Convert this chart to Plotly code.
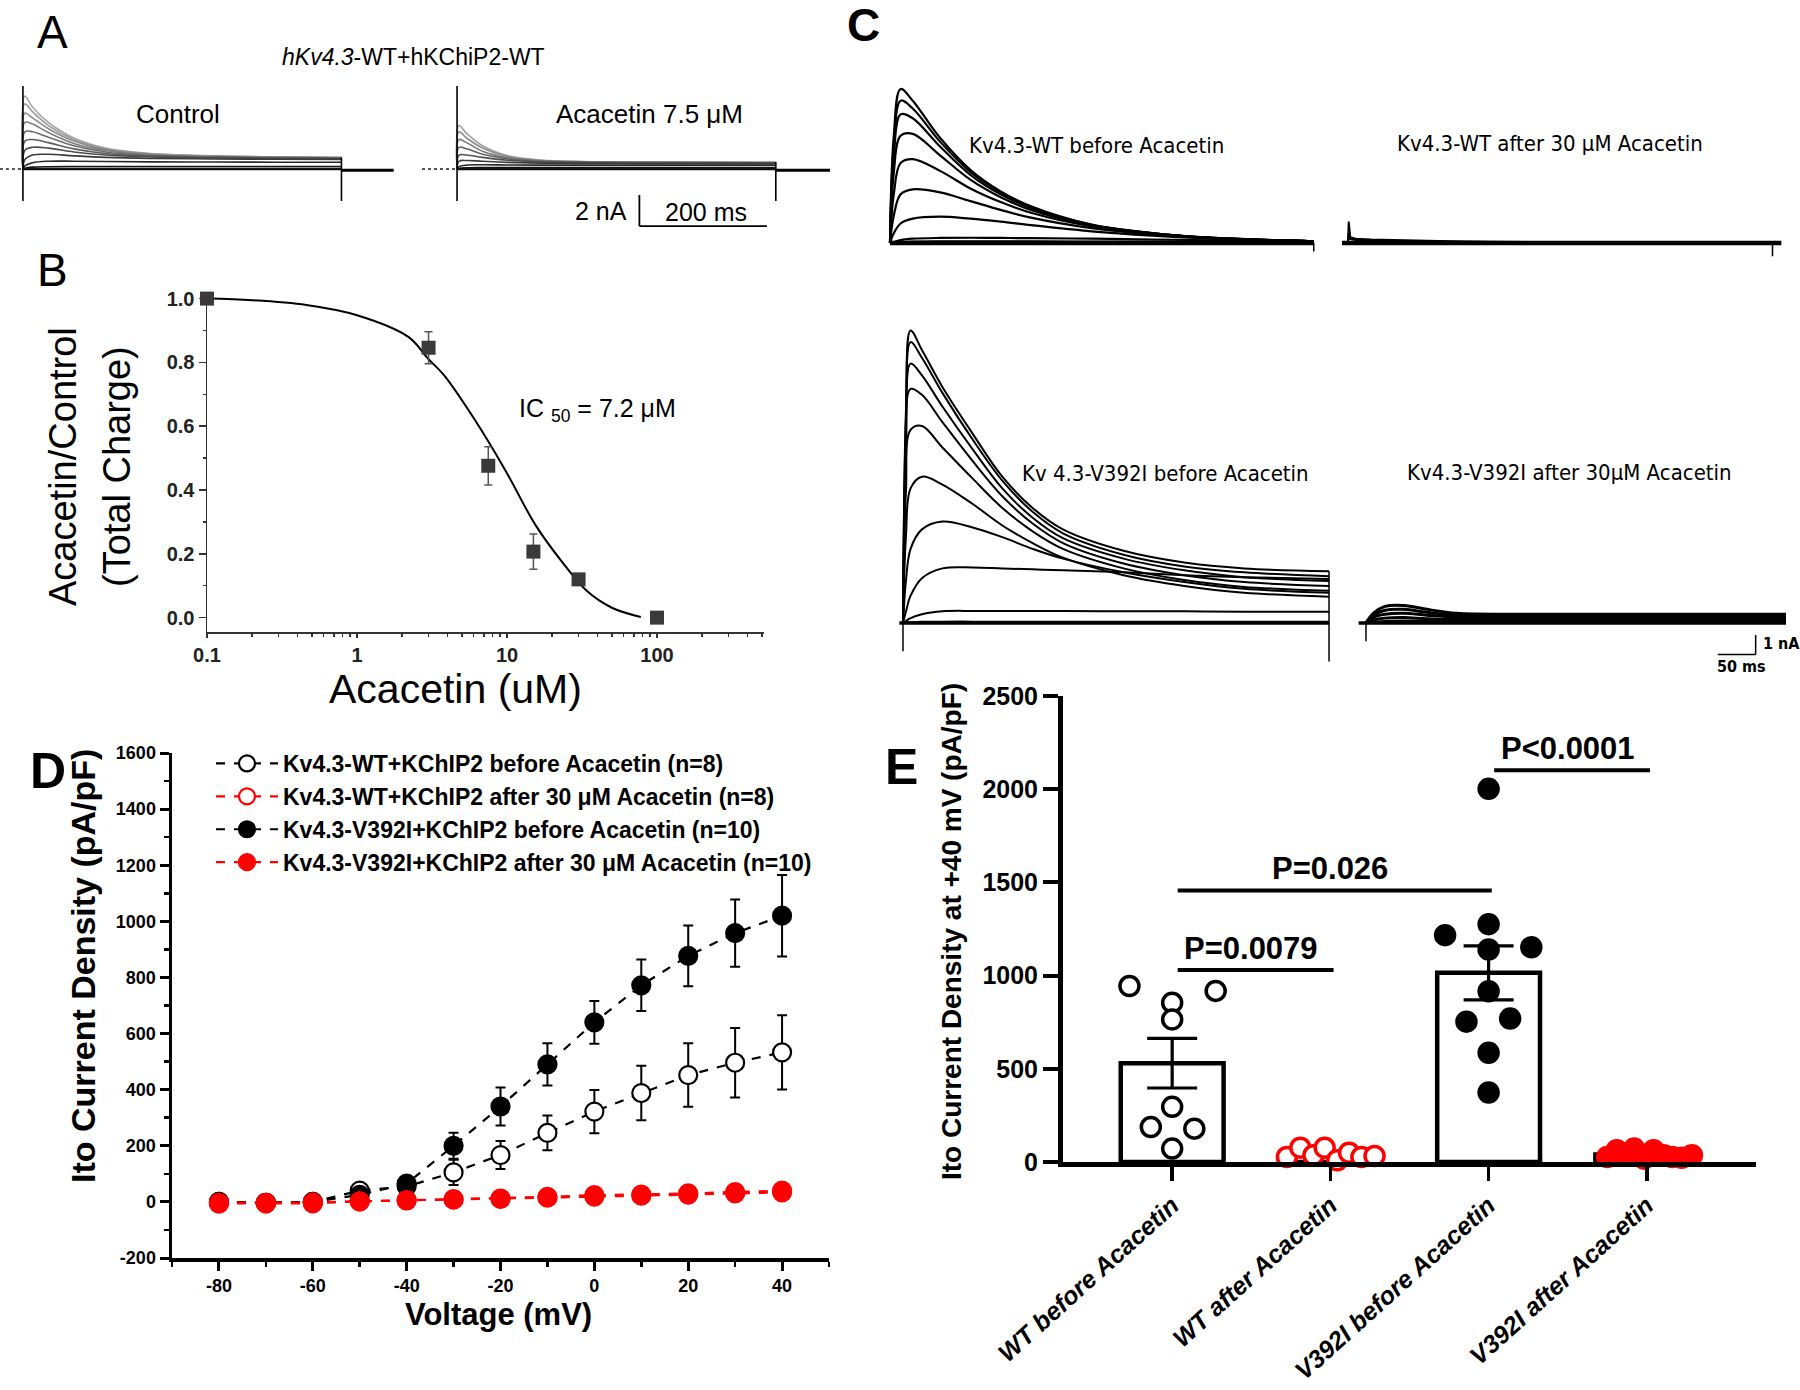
import plotly.graph_objects as go

W, H = 1800, 1390
SANS = "Liberation Sans, Arial, sans-serif"
NARROW = "Liberation Sans Narrow, Arial Narrow, DejaVu Sans Condensed, sans-serif"

# ---------------- Panel A : hKv4.3-WT + hKChiP2-WT current traces (nA vs ms) ----------------
A_time = [0, 3, 15, 40, 80, 130, 200, 300, 400, 500]
A_control = [
    [0, 4.70, 4.00, 3.00, 2.00, 1.35, 1.00, 0.85, 0.78, 0.75],
    [0, 4.20, 3.70, 2.80, 1.90, 1.30, 0.98, 0.83, 0.77, 0.74],
    [0, 3.60, 3.30, 2.60, 1.80, 1.25, 0.95, 0.82, 0.76, 0.73],
    [0, 3.00, 2.90, 2.35, 1.65, 1.20, 0.92, 0.80, 0.75, 0.72],
    [0, 2.40, 2.40, 2.05, 1.50, 1.10, 0.88, 0.78, 0.73, 0.71],
    [0, 1.80, 1.90, 1.70, 1.30, 1.00, 0.83, 0.75, 0.71, 0.69],
    [0, 1.20, 1.40, 1.35, 1.10, 0.90, 0.78, 0.72, 0.69, 0.67],
    [0, 0.60, 0.90, 0.95, 0.85, 0.75, 0.68, 0.65, 0.63, 0.62],
    [0, 0.20, 0.40, 0.50, 0.50, 0.48, 0.46, 0.45, 0.44, 0.44],
    [0, 0.05, 0.12, 0.15, 0.16, 0.16, 0.16, 0.16, 0.16, 0.16],
]
A_acacetin = [
    [0, 2.80, 2.30, 1.50, 0.85, 0.58, 0.48, 0.45, 0.44, 0.43],
    [0, 2.40, 2.00, 1.35, 0.80, 0.56, 0.47, 0.44, 0.43, 0.42],
    [0, 1.90, 1.70, 1.15, 0.72, 0.53, 0.46, 0.43, 0.42, 0.41],
    [0, 1.40, 1.30, 0.95, 0.65, 0.50, 0.44, 0.42, 0.41, 0.40],
    [0, 0.90, 0.90, 0.75, 0.56, 0.46, 0.42, 0.40, 0.39, 0.39],
    [0, 0.50, 0.55, 0.50, 0.43, 0.38, 0.36, 0.35, 0.35, 0.35],
    [0, 0.15, 0.25, 0.27, 0.26, 0.25, 0.25, 0.25, 0.25, 0.25],
    [0, 0.03, 0.07, 0.09, 0.10, 0.10, 0.10, 0.10, 0.10, 0.10],
]
A_pre_time = [-55, -2]
A_pre = [0, 0]
A_on_time = [0, 0]
A_on_artifact = [-2.06, 5.35]
A_off_time = [500, 500]
A_off_control = [0.75, -2.06]
A_off_acacetin = [0.45, -2.06]
A_tail_time = [500, 585]
A_tail = [-0.08, -0.08]
A_scale_ms = 200
A_scale_nA = 2

# ---------------- Panel B : concentration-response ----------------
B_conc = [0.1, 3, 7.5, 15, 30, 100]
B_ratio = [1.0, 0.846, 0.476, 0.207, 0.12, 0.0]
B_err = [0, 0.05, 0.06, 0.055, 0.012, 0]
B_fit_conc = [0.1, 0.2, 0.46, 1.0, 2.2, 3.0, 3.8, 6.1, 9.8, 15.5, 23, 34, 50, 78]
B_fit_ratio = [1.0, 0.995, 0.98, 0.948, 0.88, 0.81, 0.76, 0.62, 0.46, 0.29, 0.178, 0.084, 0.031, 0.002]
B_xticks = [0.1, 1, 10, 100]
B_xticklabels = ["0.1", "1", "10", "100"]
B_yticks = [0.0, 0.2, 0.4, 0.6, 0.8, 1.0]

# ---------------- Panel C : current traces (nA vs ms) ----------------
C_wt_before_time = [0, 5, 14, 30, 66, 106, 146, 186, 266, 346, 427, 559]
C_wt_before = [
    [0, 5.5, 7.9, 7.3, 5.4, 3.76, 2.65, 1.88, 0.94, 0.51, 0.26, 0.09],
    [0, 5.0, 7.3, 6.9, 5.2, 3.65, 2.60, 1.85, 0.93, 0.50, 0.26, 0.09],
    [0, 4.4, 6.6, 6.4, 4.95, 3.50, 2.50, 1.80, 0.92, 0.50, 0.26, 0.09],
    [0, 3.6, 5.5, 5.6, 4.5, 3.25, 2.35, 1.70, 0.90, 0.49, 0.25, 0.09],
    [0, 2.5, 4.1, 4.3, 3.7, 2.80, 2.10, 1.55, 0.85, 0.47, 0.25, 0.09],
    [0, 1.4, 2.5, 2.75, 2.6, 2.15, 1.70, 1.30, 0.76, 0.44, 0.24, 0.09],
    [0, 0.5, 1.0, 1.25, 1.35, 1.25, 1.10, 0.92, 0.60, 0.38, 0.22, 0.08],
    [0, 0.05, 0.15, 0.22, 0.26, 0.27, 0.26, 0.25, 0.22, 0.18, 0.14, 0.06],
    [0, 0.02, 0.05, 0.07, 0.08, 0.08, 0.08, 0.08, 0.07, 0.07, 0.06, 0.04],
]
C_wt_before_end = [0, -0.43]
C_wt_after_time = [0, 1, 3, 10, 30, 80, 150, 250, 400, 560]
C_wt_after = [
    [0, 1.1, 0.30, 0.22, 0.18, 0.13, 0.08, 0.05, 0.04, 0.03],
    [0, 0.5, 0.20, 0.15, 0.12, 0.09, 0.06, 0.04, 0.03, 0.02],
]
C_wt_after_end = [0, -0.68]
C_v_before_time = [0, 4, 10, 25, 52, 92, 131, 171, 211, 291, 371, 450, 562]
C_v_before = [
    [0, 11.0, 15.0, 14.0, 12.1, 9.7, 7.5, 5.9, 4.8, 3.7, 3.1, 2.8, 2.65],
    [0, 10.5, 14.4, 13.6, 11.8, 9.4, 7.3, 5.7, 4.6, 3.5, 2.9, 2.6, 2.4],
    [0, 9.5, 13.3, 12.7, 11.1, 8.9, 6.9, 5.4, 4.35, 3.3, 2.7, 2.35, 2.15],
    [0, 8.5, 12.0, 11.7, 10.3, 8.3, 6.5, 5.1, 4.1, 3.05, 2.45, 2.1, 1.9],
    [0, 6.8, 9.9, 10.1, 9.0, 7.4, 5.9, 4.7, 3.8, 2.8, 2.2, 1.85, 1.65],
    [0, 4.5, 6.9, 7.5, 7.1, 6.1, 5.0, 4.1, 3.35, 2.45, 1.9, 1.55, 1.35],
    [0, 2.2, 3.8, 4.8, 5.2, 4.9, 4.4, 3.8, 3.3, 2.6, 2.1, 1.75, 1.55],
    [0, 0.6, 1.4, 2.3, 2.8, 2.85, 2.8, 2.75, 2.7, 2.6, 2.45, 2.35, 2.25],
    [0, 0.1, 0.25, 0.45, 0.6, 0.62, 0.62, 0.62, 0.62, 0.6, 0.6, 0.58, 0.58],
    [0, 0.02, 0.04, 0.06, 0.07, 0.07, 0.07, 0.07, 0.07, 0.07, 0.07, 0.07, 0.07],
]
C_v_before_start = [0, -1.45]
C_v_before_end = [2.65, -1.97]
C_v_after_time = [0, 10, 25, 50, 80, 120, 200, 300, 400, 554]
C_v_after = [
    [0, 0.50, 0.85, 0.90, 0.70, 0.50, 0.45, 0.45, 0.45, 0.45],
    [0, 0.40, 0.65, 0.70, 0.55, 0.40, 0.36, 0.36, 0.36, 0.36],
    [0, 0.30, 0.45, 0.50, 0.40, 0.30, 0.28, 0.28, 0.28, 0.28],
    [0, 0.15, 0.25, 0.28, 0.22, 0.18, 0.17, 0.17, 0.17, 0.17],
    [0, 0.05, 0.08, 0.10, 0.08, 0.07, 0.07, 0.07, 0.07, 0.07],
]
C_v_after_start = [0, -0.94]
C_scale_ms = 50
C_scale_nA = 1

# ---------------- Panel D : I-V relationship ----------------
D_voltage = [-80, -70, -60, -50, -40, -30, -20, -10, 0, 10, 20, 30, 40]
D_wt_before = [0, -3, 0, 40, 55, 105, 167, 246, 322, 388, 452, 496, 533]
D_wt_before_err = [5, 5, 8, 15, 20, 45, 50, 62, 77, 97, 113, 124, 132]
D_wt_after = [-3, -3, -2, 2, 5, 8, 11, 15, 19, 22, 26, 30, 34]
D_wt_after_err = [3, 3, 3, 3, 4, 5, 5, 6, 6, 7, 7, 8, 8]
D_v_before = [0, -3, 0, 25, 65, 200, 340, 490, 640, 772, 877, 958, 1020]
D_v_before_err = [5, 5, 8, 10, 15, 46, 68, 75, 76, 92, 108, 120, 145]
D_v_after = [-6, -6, -5, 2, 6, 10, 12, 18, 24, 26, 30, 35, 40]
D_v_after_err = [3, 3, 3, 4, 4, 5, 5, 6, 6, 7, 7, 8, 9]
D_xticks = [-80, -60, -40, -20, 0, 20, 40]
D_xticklabels = ["-80", "-60", "-40", "-20", "0", "20", "40"]
D_yticks = [-200, 0, 200, 400, 600, 800, 1000, 1200, 1400, 1600]
D_yticklabels = ["-200", "0", "200", "400", "600", "800", "1000", "1200", "1400", "1600"]

# ---------------- Panel E : current density at +40 mV ----------------
E_groups = ["WT before Acacetin", "WT after Acacetin", "V392I before Acacetin", "V392I after Acacetin"]
E_mean = [530, 38, 1015, 40]
E_sem = [133, 9, 145, 8]
E_wt_before = [944, 918, 855, 765, 296, 188, 179, 72]
E_wt_before_offset = [-0.27, 0.275, 0, 0, 0, -0.135, 0.14, 0]
E_wt_after = [27, 77, 36, 77, 9, 50, 27, 32]
E_wt_after_offset = [-0.275, -0.19, -0.107, -0.036, 0.043, 0.118, 0.196, 0.279]
E_v_before = [2002, 1217, 1276, 1140, 1152, 916, 753, 770, 586, 373]
E_v_before_offset = [0, -0.275, 0, 0, 0.27, 0, -0.14, 0.136, 0, 0]
E_v_after = [27, 63, 36, 72, 18, 63, 36, 27, 23, 36]
E_v_after_offset = [-0.25, -0.19, -0.125, -0.08, -0.018, 0.043, 0.107, 0.16, 0.22, 0.285]
E_sig_from = [0, 0, 2]
E_sig_to = [1, 2, 3]
E_sig_y = [1030, 1457, 2102]
E_sig_text = ["P=0.0079", "P=0.026", "P<0.0001"]
E_yticks = [0, 500, 1000, 1500, 2000, 2500]


def xd(p0, p1):
    return [p0 / W, p1 / W]


def yd(top, bottom):
    return [1 - bottom / H, 1 - top / H]


def ann(text, x, y, size, family=SANS, xanchor="center", yanchor="middle", angle=0,
        color="black", weight=None):
    f = dict(family=family, size=size, color=color)
    if weight:
        f["weight"] = weight
    return dict(text=text, x=x / W, y=1 - y / H, xref="paper", yref="paper", showarrow=False,
                xanchor=xanchor, yanchor=yanchor, textangle=angle, font=f)


fig = go.Figure()


def line(x, y, ax, color="black", width=2, dash=None, shape="linear"):
    fig.add_trace(go.Scatter(x=x, y=y, mode="lines", xaxis="x" + ax, yaxis="y" + ax,
                             line=dict(color=color, width=width, dash=dash, shape=shape),
                             showlegend=False, hoverinfo="skip"))


# ----- Panel A traces -----
a_ctrl_cols = ["#a8a8a8", "#9a9a9a", "#8c8c8c", "#7e7e7e", "#6e6e6e",
               "#5e5e5e", "#4c4c4c", "#3a3a3a", "#282828", "#151515"]
a_acac_cols = ["#a0a0a0", "#8c8c8c", "#787878", "#646464", "#505050", "#3c3c3c", "#282828", "#151515"]
for ax, traces, cols, off in [("", A_control, a_ctrl_cols, A_off_control),
                              ("2", A_acacetin, a_acac_cols, A_off_acacetin)]:
    line(A_pre_time, A_pre, ax, color="#555", width=2, dash="dot")
    for tr, c in zip(traces, cols):
        line(A_time, tr, ax, color=c, width=1.6, shape="spline")
    line(A_on_time, A_on_artifact, ax, width=1.6)
    line(A_off_time, off, ax, width=1.6)
    line(A_tail_time, A_tail, ax, width=3)
    line([A_time[0], A_time[-1]], [0, 0], ax, color="#111", width=2.5)

# ----- Panel B -----
fig.add_trace(go.Scatter(x=B_fit_conc, y=B_fit_ratio, mode="lines", xaxis="x3", yaxis="y3",
                         line=dict(color="black", width=2, shape="spline"), showlegend=False))
fig.add_trace(go.Scatter(x=B_conc, y=B_ratio, mode="markers", xaxis="x3", yaxis="y3",
                         marker=dict(symbol="square", size=14, color="#3a3a3a"),
                         error_y=dict(type="data", array=B_err, color="#555", thickness=1.5, width=4),
                         cliponaxis=False, showlegend=False))

# ----- Panel C traces -----
for tr in C_wt_before:
    line(C_wt_before_time, tr, "4", width=2.2, shape="spline")
line([C_wt_before_time[0], C_wt_before_time[-1]], [0, 0], "4", width=4.5)
line([C_wt_before_time[-1]] * 2, C_wt_before_end, "4", width=1.5)

for tr in C_wt_after:
    line(C_wt_after_time, tr, "5", width=2, shape="linear")
line([-8, 572], [0, 0], "5", width=4.5)
line([C_wt_after_time[-1]] * 2, C_wt_after_end, "5", width=1.5)

for tr in C_v_before:
    line(C_v_before_time, tr, "6", width=2, shape="spline")
line([-5, C_v_before_time[-1]], [0, 0], "6", width=3.5)
line([0, 0], C_v_before_start, "6", width=1.5)
line([C_v_before_time[-1]] * 2, C_v_before_end, "6", width=1.5)

for tr in C_v_after:
    line(C_v_after_time, tr, "7", width=3, shape="spline")
line([-10, C_v_after_time[-1]], [0, 0], "7", width=3.5)
line([0, 0], C_v_after_start, "7", width=1.5)

# ----- Panel D -----
D_series = [
    ("<b>Kv4.3-WT+KChIP2 before Acacetin (n=8)</b>", D_wt_before, D_wt_before_err, "black", "white", 1),
    ("<b>Kv4.3-WT+KChIP2 after 30 μM Acacetin (n=8)</b>", D_wt_after, D_wt_after_err, "red", "white", 2),
    ("<b>Kv4.3-V392I+KChIP2 before Acacetin (n=10)</b>", D_v_before, D_v_before_err, "black", "black", 3),
    ("<b>Kv4.3-V392I+KChIP2 after 30 μM Acacetin (n=10)</b>", D_v_after, D_v_after_err, "red", "red", 4),
]
for name, vals, errs, col, fill, order in [D_series[0], D_series[2], D_series[1], D_series[3]]:
    fig.add_trace(go.Scatter(
        x=D_voltage, y=vals, name=name, mode="lines+markers", xaxis="x8", yaxis="y8",
        line=dict(color=col, width=2.2, dash="dash"),
        marker=dict(symbol="circle", size=18, color=fill, line=dict(color=col, width=2.2)),
        error_y=dict(type="data", array=errs, color=col, thickness=2, width=5),
        legendrank=order, cliponaxis=False))

# ----- Panel E -----
fig.add_trace(go.Bar(x=list(range(len(E_groups))), y=E_mean, width=0.65, xaxis="x9", yaxis="y9",
                     marker=dict(color="white", line=dict(color="black", width=4.5)),
                     error_y=dict(type="data", array=E_sem, color="black", thickness=3.2, width=25),
                     showlegend=False))
for gi, vals, offs, col, fill in [(0, E_wt_before, E_wt_before_offset, "black", "white"),
                                  (1, E_wt_after, E_wt_after_offset, "red", "white"),
                                  (2, E_v_before, E_v_before_offset, "black", "black"),
                                  (3, E_v_after, E_v_after_offset, "red", "red")]:
    fig.add_trace(go.Scatter(x=[gi + o for o in offs], y=vals, mode="markers", xaxis="x9", yaxis="y9",
                             marker=dict(symbol="circle", size=19, color=fill, line=dict(color=col, width=3.5)),
                             cliponaxis=False, showlegend=False))

shapes = []
for a, b, yv in zip(E_sig_from, E_sig_to, E_sig_y):
    shapes.append(dict(type="line", xref="x9", yref="y9", x0=a + 0.035, x1=b + 0.02, y0=yv, y1=yv,
                       line=dict(color="black", width=4)))
# scale bars
A_bar_x, A_bar_y = 286, -3.68
shapes.append(dict(type="line", xref="x2", yref="y2", x0=A_bar_x, x1=A_bar_x, y0=A_bar_y,
                   y1=A_bar_y + A_scale_nA, line=dict(color="black", width=1.8)))
shapes.append(dict(type="line", xref="x2", yref="y2", x0=A_bar_x, x1=A_bar_x + A_scale_ms, y0=A_bar_y,
                   y1=A_bar_y, line=dict(color="black", width=1.8)))
C_bar_x, C_bar_y = 514, -1.62
shapes.append(dict(type="line", xref="x7", yref="y7", x0=C_bar_x, x1=C_bar_x, y0=C_bar_y,
                   y1=C_bar_y + C_scale_nA, line=dict(color="black", width=1.5)))
shapes.append(dict(type="line", xref="x7", yref="y7", x0=C_bar_x - C_scale_ms, x1=C_bar_x, y0=C_bar_y,
                   y1=C_bar_y, line=dict(color="black", width=1.5)))

annotations = [
    ann("A", 52, 32, 46),
    ann("<i>hKv4.3</i>-WT+hKChiP2-WT", 413, 57, 23),
    ann("Control", 178, 114, 26),
    ann("Acacetin 7.5 μM", 649, 114, 26),
    ann("%d nA" % A_scale_nA, 629, 211, 25, xanchor="right"),
    ann("%d ms" % A_scale_ms, 706, 212, 25),
    ann("B", 52, 270, 46),
    ann("Acacetin/Control", 63, 467, 38, angle=-90),
    ann("(Total Charge)", 117, 467, 38, angle=-90),
    ann("Acacetin (uM)", 455, 689, 41),
    ann("IC <sub>50</sub> = 7.2 μM", 597, 410, 25),
    ann("C", 863, 25, 46, weight=700),
    ann("Kv4.3-WT before Acacetin", 1096, 145, 22, family=NARROW),
    ann("Kv4.3-WT after 30 μM Acacetin", 1550, 143, 22, family=NARROW),
    ann("Kv 4.3-V392I before Acacetin", 1165, 474, 22, family=NARROW),
    ann("Kv4.3-V392I after 30μM Acacetin", 1569, 472, 22, family=NARROW),
    ann("%d nA" % C_scale_nA, 1761, 643, 16, family=NARROW, xanchor="left", weight=700),
    ann("%d ms" % C_scale_ms, 1741, 666, 16, family=NARROW, weight=700),
    ann("D", 48, 771, 50, weight=700),
    ann("Ito Current Density (pA/pF)", 83, 966, 34, angle=-90, weight=700),
    ann("Voltage (mV)", 499, 1314, 31, weight=700),
    ann("E", 901, 767, 50, weight=700),
    ann("Ito Current Density at +40 mV (pA/pF)", 951, 932, 28, angle=-90, weight=700),
]
for a, b, yv, t in zip(E_sig_from, E_sig_to, E_sig_y, E_sig_text):
    annotations.append(dict(text=t, x=(a + b) / 2, y=yv, xref="x9", yref="y9", showarrow=False,
                            xanchor="center", yanchor="bottom", yshift=2,
                            font=dict(family=SANS, size=31, color="black", weight=700)))

hidden = dict(visible=False, fixedrange=True, showgrid=False, zeroline=False, automargin=False)
tickfont_b = dict(family=SANS, size=20, color="#222", weight=700)
tickfont_d = dict(family=SANS, size=18, color="black", weight=700)
tickfont_e = dict(family=SANS, size=25, color="black", weight=700)

fig.update_layout(
    template="none",
    width=W, height=H, autosize=False, margin=dict(l=0, r=0, t=0, b=0, pad=0),
    font=dict(family=SANS, color="black"),
    paper_bgcolor="white", plot_bgcolor="rgba(0,0,0,0)",
    showlegend=True,
    legend=dict(x=211 / W, y=1 - 742 / H, xanchor="left", yanchor="top",
                font=dict(family=SANS, size=23, color="black"), bgcolor="rgba(0,0,0,0)",
                borderwidth=0, tracegroupgap=0, itemwidth=62, traceorder="normal"),
    shapes=shapes, annotations=annotations,
    xaxis=dict(domain=xd(0, 393.7), range=[-36, 582], anchor="y", **hidden),
    yaxis=dict(domain=yd(85.3, 231), range=[-4.0, 5.4], anchor="x", **hidden),
    xaxis2=dict(domain=xd(422, 830), range=[-55, 585], anchor="y2", **hidden),
    yaxis2=dict(domain=yd(85.3, 231), range=[-4.0, 5.4], anchor="x2", **hidden),
    xaxis3=dict(domain=xd(207, 763.5), type="log", range=[-1, 2.71], anchor="y3", automargin=False,
                showline=True, linecolor="#333", linewidth=1.5, ticks="outside", ticklen=4,
                tickwidth=1.5, tickcolor="#333", tickvals=B_xticks, ticktext=B_xticklabels,
                tickfont=tickfont_b, showgrid=False, zeroline=False,
                minor=dict(ticks="outside", ticklen=3, tickcolor="#333", dtick="D1", showgrid=False)),
    yaxis3=dict(domain=yd(297, 632), range=[-0.045, 1.005], anchor="x3", automargin=False,
                showline=True, linecolor="#333", linewidth=1.5, ticks="outside", ticklen=7,
                tickwidth=1.5, tickcolor="#333", tickvals=B_yticks, tickformat=".1f",
                tickfont=tickfont_b, showgrid=False, zeroline=False,
                minor=dict(ticks="outside", ticklen=3, tickcolor="#333", dtick=0.1, showgrid=False)),
    xaxis4=dict(domain=xd(886.2, 1318.3), range=[-5, 565], anchor="y4", **hidden),
    yaxis4=dict(domain=yd(81.2, 258.6), range=[-0.8, 8.3], anchor="x4", **hidden),
    xaxis5=dict(domain=xd(1341.9, 1781.6), range=[-8, 572], anchor="y5", **hidden),
    yaxis5=dict(domain=yd(81.2, 258.6), range=[-0.8, 8.3], anchor="x5", **hidden),
    xaxis6=dict(domain=xd(899.2, 1331.3), range=[-5, 565], anchor="y6", **hidden),
    yaxis6=dict(domain=yd(324.6, 673.7), range=[-2.6, 15.3], anchor="x6", **hidden),
    xaxis7=dict(domain=xd(1358.4, 1798.1), range=[-10, 570], anchor="y7", **hidden),
    yaxis7=dict(domain=yd(324.6, 673.7), range=[-2.6, 15.3], anchor="x7", **hidden),
    xaxis8=dict(domain=xd(172, 829), range=[-90, 50], anchor="y8", automargin=False,
                showline=True, linewidth=3.5,
                linecolor="black", ticks="outside", ticklen=9, tickwidth=3, tickcolor="black",
                tickvals=D_xticks, ticktext=D_xticklabels, tickfont=tickfont_d,
                showgrid=False, zeroline=False,
                minor=dict(ticks="outside", ticklen=5, tickwidth=2.5, tickcolor="black",
                           dtick=10, tick0=0, showgrid=False)),
    yaxis8=dict(domain=yd(753, 1258), range=[-200, 1600], anchor="x8", automargin=False,
                showline=True, linewidth=3.5,
                linecolor="black", ticks="outside", ticklen=9, tickwidth=3, tickcolor="black",
                tickvals=D_yticks, ticktext=D_yticklabels, tickfont=tickfont_d,
                showgrid=False, zeroline=False,
                minor=dict(ticks="outside", ticklen=5, tickwidth=2.5, tickcolor="black",
                           dtick=100, tick0=0, showgrid=False)),
    xaxis9=dict(domain=xd(1063, 1756), range=[-0.69, 3.69], anchor="y9", automargin=False,
                showline=True, linewidth=5,
                linecolor="black", ticks="outside", ticklen=14, tickwidth=3.5, tickcolor="black",
                tickvals=list(range(len(E_groups))),
                ticktext=["<b><i>%s</i></b>" % g for g in E_groups], tickangle=-42,
                tickfont=dict(family=SANS, size=25, color="black"), showgrid=False, zeroline=False),
    yaxis9=dict(domain=yd(696, 1162), range=[0, 2500], anchor="x9", automargin=False,
                showline=True, linewidth=5,
                linecolor="black", ticks="outside", ticklen=15, tickwidth=4, tickcolor="black",
                tickvals=E_yticks, tickfont=tickfont_e, showgrid=False, zeroline=False),
)

fig.write_html("out.html", config={"staticPlot": True},
               post_script="document.body.style.margin='0px';")
